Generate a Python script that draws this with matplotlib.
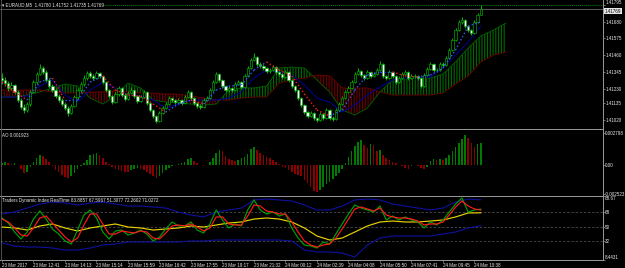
import matplotlib
matplotlib.use('Agg')
import matplotlib.pyplot as plt
import numpy as np
from matplotlib.lines import Line2D

plt.rcParams['font.family'] = ['Liberation Sans', 'DejaVu Sans']
plt.rcParams['hatch.linewidth'] = 0.8

# ---------------- data ----------------
title_main = "\u25be EURAUD,M5  1.41780 1.41752 1.41735 1.41769"
title_ao = "AO 0.001923"
title_tdi = "Traders Dynamic Index RealTime 83.8857 67.5967 51.3077 72.2602 71.0272"

closes = [1.41290, 1.41269, 1.41236, 1.41256, 1.41209, 1.41155, 1.41108, 1.41088, 1.41128, 1.41209,
          1.41276, 1.41330, 1.41370, 1.41343, 1.41290, 1.41249, 1.41222, 1.41182, 1.41155, 1.41128,
          1.41101, 1.41068, 1.41115, 1.41175, 1.41222, 1.41263, 1.41303, 1.41337, 1.41317, 1.41303,
          1.41337, 1.41317, 1.41276, 1.41222, 1.41182, 1.41141, 1.41195, 1.41236, 1.41189, 1.41162,
          1.41202, 1.41222, 1.41182, 1.41148, 1.41175, 1.41209, 1.41135, 1.41088, 1.41047, 1.41014,
          1.41068, 1.41101, 1.41128, 1.41168, 1.41155, 1.41141, 1.41155, 1.41135, 1.41175, 1.41209,
          1.41168, 1.41135, 1.41115, 1.41108, 1.41155, 1.41168, 1.41222, 1.41276, 1.41330, 1.41290,
          1.41249, 1.41222, 1.41236, 1.41222, 1.41263, 1.41276, 1.41243, 1.41317, 1.41370, 1.41424,
          1.41444, 1.41397, 1.41384, 1.41370, 1.41350, 1.41357, 1.41377, 1.41343, 1.41330, 1.41310,
          1.41343, 1.41290, 1.41249, 1.41222, 1.41168, 1.41121, 1.41074, 1.41047, 1.41068, 1.41034,
          1.41020, 1.41061, 1.41034, 1.41088, 1.41034, 1.41027, 1.41088, 1.41128, 1.41168, 1.41209,
          1.41236, 1.41276, 1.41330, 1.41350, 1.41323, 1.41303, 1.41343, 1.41317, 1.41330, 1.41357,
          1.41397, 1.41317, 1.41303, 1.41343, 1.41317, 1.41276, 1.41303, 1.41330, 1.41343, 1.41303,
          1.41317, 1.41317, 1.41303, 1.41249, 1.41323, 1.41364, 1.41397, 1.41357, 1.41357, 1.41397,
          1.41391, 1.41438, 1.41492, 1.41559, 1.41626, 1.41680, 1.41693, 1.41653, 1.41626, 1.41606,
          1.41680, 1.41727, 1.41769]
first_open = 1.41300
highs = [1.41335, 1.41310, 1.41280, 1.41275, 1.41266, 1.41222, 1.41170, 1.41125, 1.41140, 1.41220,
         1.41290, 1.41345, 1.41395, 1.41385, 1.41355, 1.41300, 1.41262, 1.41236, 1.41195, 1.41168,
         1.41140, 1.41112, 1.41128, 1.41188, 1.41236, 1.41276, 1.41320, 1.41352, 1.41350, 1.41330,
         1.41350, 1.41345, 1.41325, 1.41285, 1.41232, 1.41192, 1.41208, 1.41250, 1.41245, 1.41200,
         1.41215, 1.41240, 1.41230, 1.41190, 1.41188, 1.41222, 1.41215, 1.41142, 1.41095, 1.41055,
         1.41080, 1.41115, 1.41140, 1.41180, 1.41178, 1.41165, 1.41168, 1.41162, 1.41188, 1.41222,
         1.41215, 1.41175, 1.41142, 1.41128, 1.41168, 1.41180, 1.41235, 1.41290, 1.41345, 1.41338,
         1.41298, 1.41256, 1.41250, 1.41245, 1.41276, 1.41292, 1.41285, 1.41330, 1.41385, 1.41440,
         1.41470, 1.41452, 1.41410, 1.41395, 1.41378, 1.41370, 1.41392, 1.41385, 1.41352, 1.41338,
         1.41356, 1.41350, 1.41298, 1.41258, 1.41230, 1.41175, 1.41128, 1.41082, 1.41082, 1.41075,
         1.41042, 1.41075, 1.41070, 1.41100, 1.41095, 1.41045, 1.41100, 1.41140, 1.41182, 1.41222,
         1.41250, 1.41290, 1.41345, 1.41370, 1.41360, 1.41332, 1.41356, 1.41350, 1.41345, 1.41372,
         1.41415, 1.41402, 1.41325, 1.41356, 1.41350, 1.41325, 1.41316, 1.41342, 1.41358, 1.41350,
         1.41330, 1.41332, 1.41325, 1.41310, 1.41336, 1.41378, 1.41412, 1.41405, 1.41372, 1.41410,
         1.41410, 1.41452, 1.41505, 1.41572, 1.41640, 1.41695, 1.41712, 1.41700, 1.41662, 1.41635,
         1.41692, 1.41740, 1.41792]
lows = [1.41262, 1.41250, 1.41215, 1.41225, 1.41195, 1.41140, 1.41095, 1.41070, 1.41075, 1.41118,
        1.41200, 1.41265, 1.41320, 1.41330, 1.41278, 1.41236, 1.41210, 1.41170, 1.41140, 1.41115,
        1.41088, 1.41050, 1.41060, 1.41108, 1.41165, 1.41210, 1.41252, 1.41292, 1.41305, 1.41290,
        1.41296, 1.41305, 1.41262, 1.41210, 1.41168, 1.41128, 1.41135, 1.41185, 1.41178, 1.41150,
        1.41155, 1.41195, 1.41170, 1.41135, 1.41140, 1.41168, 1.41122, 1.41075, 1.41035, 1.41000,
        1.41005, 1.41060, 1.41092, 1.41120, 1.41145, 1.41130, 1.41132, 1.41122, 1.41128, 1.41168,
        1.41158, 1.41122, 1.41102, 1.41095, 1.41100, 1.41148, 1.41160, 1.41215, 1.41268, 1.41278,
        1.41236, 1.41210, 1.41212, 1.41208, 1.41215, 1.41255, 1.41232, 1.41236, 1.41310, 1.41362,
        1.41415, 1.41385, 1.41370, 1.41358, 1.41338, 1.41340, 1.41348, 1.41330, 1.41318, 1.41298,
        1.41302, 1.41278, 1.41236, 1.41210, 1.41155, 1.41108, 1.41060, 1.41032, 1.41038, 1.41020,
        1.41005, 1.41012, 1.41022, 1.41026, 1.41020, 1.41012, 1.41020, 1.41080, 1.41120, 1.41160,
        1.41200, 1.41228, 1.41268, 1.41322, 1.41310, 1.41290, 1.41296, 1.41305, 1.41308, 1.41322,
        1.41350, 1.41305, 1.41290, 1.41296, 1.41305, 1.41262, 1.41268, 1.41296, 1.41322, 1.41290,
        1.41296, 1.41300, 1.41290, 1.41236, 1.41242, 1.41316, 1.41356, 1.41345, 1.41342, 1.41350,
        1.41378, 1.41384, 1.41430, 1.41485, 1.41552, 1.41618, 1.41668, 1.41640, 1.41612, 1.41592,
        1.41600, 1.41672, 1.41735]

# Ichimoku (sampled every 4 bars; cloud runs 8 bars ahead)
span_bars = list(range(0, 161, 4))
span_a = [1.41175, 1.41175, 1.41189, 1.41209, 1.41236, 1.41263, 1.41249, 1.41168, 1.41128, 1.41182,
          1.41269, 1.41236, 1.41155, 1.41141, 1.41135, 1.41128, 1.41121, 1.41128, 1.41222, 1.41236,
          1.41236, 1.41249, 1.41370, 1.41377, 1.41370, 1.41290, 1.41209, 1.41088, 1.41054, 1.41101,
          1.41209, 1.41290, 1.41296, 1.41303, 1.41303, 1.41330, 1.41411, 1.41505, 1.41586, 1.41626,
          1.41673]
span_b = [1.41222, 1.41222, 1.41222, 1.41222, 1.41209, 1.41202, 1.41202, 1.41209, 1.41209, 1.41216,
          1.41209, 1.41202, 1.41202, 1.41195, 1.41195, 1.41182, 1.41168, 1.41155, 1.41155, 1.41168,
          1.41175, 1.41175, 1.41269, 1.41290, 1.41303, 1.41323, 1.41317, 1.41236, 1.41236, 1.41236,
          1.41209, 1.41189, 1.41189, 1.41189, 1.41189, 1.41202, 1.41263, 1.41317, 1.41411, 1.41458,
          1.41478]
line_bars = list(range(0, 153, 4))
tenkan = [1.41276, 1.41209, 1.41155, 1.41276, 1.41303, 1.41155, 1.41155, 1.41276, 1.41317, 1.41222,
          1.41189, 1.41182, 1.41128, 1.41074, 1.41128, 1.41155, 1.41128, 1.41222, 1.41249, 1.41256,
          1.41357, 1.41411, 1.41357, 1.41317, 1.41195, 1.41088, 1.41047, 1.41088, 1.41222, 1.41323,
          1.41343, 1.41343, 1.41317, 1.41310, 1.41323, 1.41370, 1.41492, 1.41653, 1.41680]
kijun = [1.41175, 1.41175, 1.41182, 1.41249, 1.41290, 1.41189, 1.41141, 1.41222, 1.41276, 1.41236,
         1.41189, 1.41182, 1.41155, 1.41101, 1.41128, 1.41155, 1.41155, 1.41155, 1.41168, 1.41209,
         1.41303, 1.41357, 1.41343, 1.41323, 1.41256, 1.41168, 1.41141, 1.41074, 1.41121, 1.41189,
         1.41243, 1.41290, 1.41303, 1.41303, 1.41310, 1.41370, 1.41458, 1.41545, 1.41653]
top_level = 1.41794

ao = [0.00017, 0.00026, 0.00017, 0.00009, 0.00017, 0.00002, -0.00035, -0.00070, -0.00061, -0.00017,
      0.00026, 0.00061, 0.00087, 0.00079, 0.00052, 0.00026, -0.00009, -0.00044, -0.00061, -0.00087,
      -0.00105, -0.00114, -0.00096, -0.00070, -0.00035, -0.00009, 0.00017, 0.00044, 0.00087, 0.00096,
      0.00105, 0.00087, 0.00061, 0.00026, 0.00009, -0.00017, -0.00035, -0.00044, -0.00052, -0.00061,
      -0.00063, -0.00044, -0.00035, -0.00026, -0.00035, -0.00044, -0.00061, -0.00079, -0.00096, -0.00114,
      -0.00096, -0.00070, -0.00044, -0.00026, -0.00009, -0.00002, 0.00009, 0.00017, 0.00026, 0.00052,
      0.00061, 0.00035, 0.00017, 0.00003, -0.00009, -0.00003, 0.00026, 0.00061, 0.00105, 0.00131,
      0.00122, 0.00079, 0.00052, 0.00044, 0.00035, 0.00044, 0.00061, 0.00070, 0.00096, 0.00140,
      0.00157, 0.00131, 0.00105, 0.00087, 0.00070, 0.00061, 0.00044, 0.00026, 0.00009, -0.00017,
      -0.00026, -0.00044, -0.00061, -0.00079, -0.00087, -0.00096, -0.00131, -0.00157, -0.00192, -0.00227,
      -0.00236, -0.00219, -0.00192, -0.00166, -0.00149, -0.00122, -0.00096, -0.00070, -0.00035, 0.00017,
      0.00070, 0.00122, 0.00166, 0.00201, 0.00219, 0.00175, 0.00149, 0.00184, 0.00175, 0.00122,
      0.00131, 0.00087, 0.00061, 0.00044, 0.00026, 0.00017, 0.00002, -0.00009, -0.00026, -0.00035,
      -0.00009, -0.00003, -0.00009, -0.00026, -0.00035, -0.00017, 0.00035, 0.00052, 0.00044, 0.00052,
      0.00044, 0.00061, 0.00087, 0.00122, 0.00157, 0.00192, 0.00227, 0.00262, 0.00236, 0.00192,
      0.00157, 0.00184, 0.00192]

tdi_fast_bars = list(range(0, 153, 2))
rsi_line = [61.1, 54.8, 43.5, 34.8, 43.5, 59.8, 69.9, 59.8, 47.3, 41.0,
            32.3, 28.5, 46.0, 64.8, 71.1, 61.1, 43.5, 34.8, 44.8, 46.0,
            39.8, 42.3, 46.0, 41.0, 32.3, 37.3, 47.3, 56.1, 51.1, 51.1,
            56.1, 46.0, 42.3, 53.6, 71.1, 58.6, 48.6, 53.6, 51.1, 71.1,
            83.7, 71.1, 66.1, 68.6, 63.6, 66.1, 48.6, 36.0, 27.2, 26.0,
            23.5, 31.0, 28.5, 41.0, 53.6, 66.1, 77.4, 73.6, 71.1, 68.6,
            76.1, 58.6, 63.6, 58.6, 62.4, 58.6, 56.1, 48.6, 56.1, 52.3,
            58.6, 68.6, 78.6, 86.2, 68.6, 71.1, 72.26]
signal_line = [59.8, 56.1, 48.6, 39.8, 38.5, 48.6, 61.1, 63.6, 54.8, 46.0,
               37.3, 31.0, 36.0, 52.3, 66.1, 66.1, 53.6, 41.0, 41.0, 44.8,
               43.5, 42.3, 44.8, 43.5, 36.0, 34.8, 42.3, 51.1, 52.3, 51.1,
               53.6, 49.8, 44.8, 48.6, 62.4, 62.4, 53.6, 52.3, 52.3, 63.6,
               77.4, 76.1, 69.9, 68.6, 66.1, 66.1, 56.1, 43.5, 32.3, 27.2,
               24.7, 27.2, 28.5, 36.0, 47.3, 59.8, 72.4, 74.9, 72.4, 69.9,
               73.6, 64.8, 62.4, 61.1, 61.1, 59.8, 57.3, 52.3, 53.6, 53.6,
               56.1, 64.8, 74.9, 82.4, 76.1, 72.4, 71.03]
tdi_slow_bars = list(range(0, 153, 4))
market_base = [49.8, 48.6, 46.0, 51.1, 53.6, 48.6, 44.8, 48.6, 51.1, 53.6,
               49.8, 48.6, 46.0, 47.3, 48.6, 51.1, 49.8, 52.3, 54.8, 56.1,
               59.8, 61.1, 59.8, 56.1, 48.6, 38.5, 33.5, 36.0, 43.5, 51.1,
               56.1, 57.3, 56.1, 56.1, 57.3, 58.6, 62.4, 67.4, 67.6]
upper_band = [66.1, 68.6, 73.6, 78.6, 81.1, 79.9, 77.4, 79.9, 81.1, 78.6,
              76.1, 76.1, 74.9, 73.6, 68.6, 64.8, 62.4, 68.6, 71.1, 73.6,
              83.7, 84.9, 83.7, 82.4, 77.4, 71.1, 71.1, 76.1, 83.7, 84.9,
              83.7, 78.6, 76.1, 73.6, 71.1, 73.6, 81.1, 84.9, 83.9]
lower_band = [29.8, 26.0, 24.7, 24.7, 23.5, 21.0, 21.0, 23.5, 27.2, 28.5,
              31.0, 31.0, 31.0, 31.0, 31.0, 32.3, 32.3, 33.5, 33.5, 33.5,
              33.5, 33.5, 33.5, 32.3, 21.0, 18.5, 18.5, 17.2, 12.2, 27.2,
              36.0, 38.5, 38.5, 38.5, 38.5, 41.0, 43.5, 48.6, 51.3]
tdi_levels = [68, 50, 32]

time_label_bars = list(range(0, 151, 10))
time_labels = ["23 Mar 2017", "23 Mar 12:41", "23 Mar 14:13", "23 Mar 15:14", "23 Mar 15:59",
               "23 Mar 16:42", "23 Mar 17:55", "23 Mar 19:17", "23 Mar 21:32", "24 Mar 00:12",
               "24 Mar 02:39", "24 Mar 04:08", "24 Mar 05:50", "24 Mar 07:41", "24 Mar 09:45",
               "24 Mar 10:38"]
price_ticks = [1.41680, 1.41575, 1.41460, 1.41345, 1.41230, 1.41135, 1.41020]
price_top = 1.41795
ao_ticks = [0.002798, 0.0, -0.002523]
ao_tick_labels = ["0.002798", "0.00", "-0.002523"]
tdi_ticks = [88.67, 68, 50, 32, 8.4431]
tdi_tick_labels = ["88.67", "68", "50", "32", "8.4431"]

# ---------------- figure ----------------
W, H = 625, 268
fig = plt.figure(figsize=(W / 100, H / 100), dpi=100, facecolor='black')
FS = 3.25
GRAY = '#9a9a9a'
TXT = '#e8e8e8'
xr = 603 / W

def fy(py):
    return 1 - py / H

ax1 = fig.add_axes([0, fy(129), xr, 129 / H])
ax2 = fig.add_axes([0, fy(196), xr, 66 / H])
ax3 = fig.add_axes([0, fy(260), xr, 64 / H])

xlim = (-0.63, 190.8)
for ax in (ax1, ax2, ax3):
    ax.set_facecolor('black')
    for s in ax.spines.values():
        s.set_visible(False)
    ax.set_xlim(*xlim)
    ax.yaxis.tick_right()
    ax.tick_params(axis='y', length=1.2, width=0.5, color=GRAY, pad=0.4,
                   labelsize=FS, labelcolor=TXT)
    ax.tick_params(axis='x', bottom=False, labelbottom=False)

# ---- main chart ----
bars = np.arange(len(closes))
c = np.array(closes)
o = np.array([first_open] + closes[:-1])
ax1.set_ylim(1.40960, 1.41828)

sa = np.array(span_a)
sb = np.array(span_b)
ax1.fill_between(span_bars, sa, sb, where=sa >= sb, interpolate=True,
                 facecolor='none', edgecolor='#006a00', hatch='||||||', linewidth=0)
ax1.fill_between(span_bars, sa, sb, where=sa < sb, interpolate=True,
                 facecolor='none', edgecolor='#6e0000', hatch='||||||', linewidth=0)
ax1.plot(span_bars, sa, color='#006400', lw=0.6)
ax1.plot(span_bars, sb, color='#700000', lw=0.6)
ax1.plot(line_bars, kijun, color='#00008c', lw=0.8)

ax1.axhline(top_level, color='#008a00', lw=0.7, ls=(0, (1, 1)))
ax1.axhline(closes[-1], color='#7a7a7a', lw=0.5)

ax1.vlines(bars, lows, highs, color='#00b400', lw=0.7, zorder=3)
bull = c >= o
face = np.where(bull, 'black', 'white')
height = np.maximum(np.abs(c - o), 0.00002)
bottom = np.minimum(o, c)
ax1.bar(bars, height, bottom=bottom, width=0.72, color=face,
        edgecolor='#00b400', linewidth=0.45, zorder=3)

for k in range(len(line_bars) - 1):
    col = '#ff1a1a' if tenkan[k + 1] < tenkan[k] else '#3355ff'
    ax1.plot(line_bars[k:k + 2], tenkan[k:k + 2], color=col, lw=1.0,
             ls=(0, (1, 1.6)), zorder=4)

ax1.set_yticks([price_top] + price_ticks)
ax1.set_yticklabels([f"{v:.5f}" for v in [price_top] + price_ticks])
ax1.get_yticklabels()[0].set_va('bottom')
ax1.text(1.003, closes[-1], f"{closes[-1]:.5f}", transform=ax1.get_yaxis_transform(),
         ha='left', va='top', fontsize=FS, color='black', zorder=6, clip_on=False,
         bbox=dict(facecolor='#e6e6e6', edgecolor='none', pad=0.5))
ax1.text(0.003, 0.985, title_main, transform=ax1.transAxes, ha='left', va='top',
         fontsize=FS, color=TXT, zorder=6,
         bbox=dict(facecolor='black', edgecolor='none', pad=0.4))

# ---- AO ----
ao_arr = np.array(ao)
ao_col = ['#007a00'] + ['#007a00' if ao_arr[i] >= ao_arr[i - 1] else '#8c0000'
                        for i in range(1, len(ao_arr))]
ax2.bar(bars, ao_arr, width=0.5, color=ao_col, linewidth=0)
ax2.set_ylim(-0.00271, 0.00306)
ax2.set_yticks(ao_ticks)
ax2.set_yticklabels(ao_tick_labels)
ax2.text(0.003, 0.96, title_ao, transform=ax2.transAxes, ha='left', va='top',
         fontsize=FS, color=TXT)

# ---- TDI ----
ax3.set_ylim(8.4431, 88.67)
for lv in tdi_levels:
    ax3.axhline(lv, color='#4a4a4a', lw=0.6, ls=(0, (3, 2)))
ax3.plot(tdi_slow_bars, upper_band, color='#1010a0', lw=0.8)
ax3.plot(tdi_slow_bars, lower_band, color='#1010a0', lw=0.8)
ax3.plot(tdi_slow_bars, market_base, color='#e6d200', lw=0.85)
ax3.plot(tdi_fast_bars, rsi_line, color='#00a000', lw=0.85)
ax3.plot(tdi_fast_bars, signal_line, color='#ff1a1a', lw=0.85)
ax3.set_yticks(tdi_ticks)
ax3.set_yticklabels(tdi_tick_labels)
lbls = ax3.get_yticklabels()
lbls[0].set_va('top')
lbls[-1].set_va('bottom')
ax3.text(0.003, 0.97, title_tdi, transform=ax3.transAxes, ha='left', va='top',
         fontsize=FS, color=TXT)

ax3.tick_params(axis='x', bottom=True, labelbottom=True, length=1.5, width=0.5,
                color=GRAY, pad=0.5, labelsize=FS, labelcolor=TXT)
ax3.set_xticks(time_label_bars)
ax3.set_xticklabels(time_labels, ha='left')

# ---- frame lines ----
for py in (129.5, 196, 260):
    fig.add_artist(Line2D([0, xr], [fy(py), fy(py)], color=GRAY, lw=0.7))
fig.add_artist(Line2D([xr, xr], [fy(260), 1], color=GRAY, lw=0.7))
fig.add_artist(Line2D([0.0008, 0.0008], [fy(260), 1], color='#5a5a5a', lw=0.6))

fig.savefig('out.png', dpi=100, facecolor='black')
